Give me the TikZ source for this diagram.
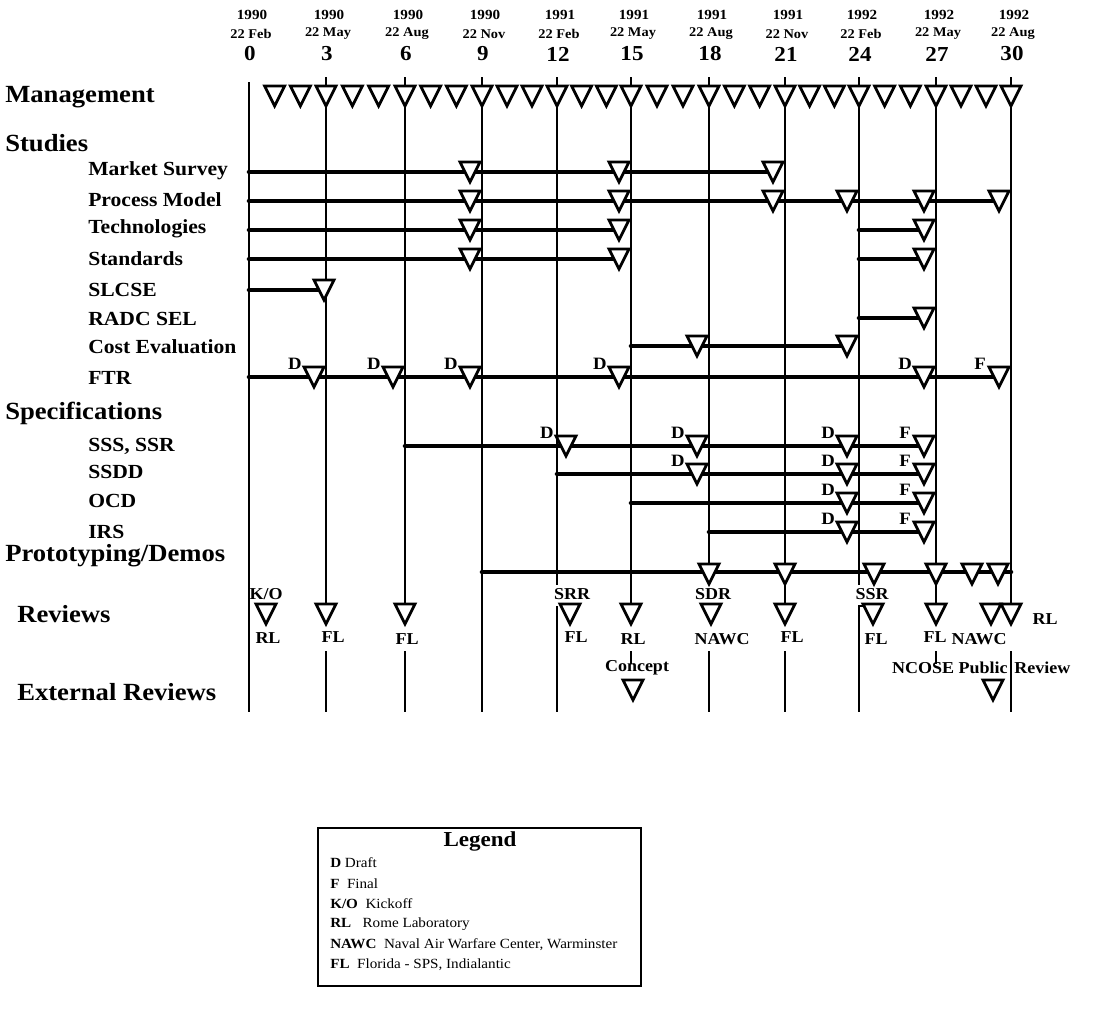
\documentclass[tikz,border=0pt]{standalone}
\usepackage{fontspec}
\setmainfont{Liberation Serif}[FakeStretch=1.08]
\usetikzlibrary{calc}
\newcommand\setmx[1]{%
  \pgfmathsetmacro\mI{int(min(floor((#1)/3),9))}%
  \pgfmathsetmacro\mJ{int(\mI+1)}%
  \pgfmathsetmacro\mF{(#1)/3-\mI}%
  \pgfmathsetmacro\mA{{249,326,405,482,557,631,709,785,859,936,1011}[\mI]}%
  \pgfmathsetmacro\mB{{249,326,405,482,557,631,709,785,859,936,1011}[\mJ]}%
  \pgfmathsetmacro\X{\mA+\mF*(\mB-\mA)}}
\newcommand\tr[2]{\draw[tri] ({#1-10},{#2-10}) -- ({#1+10},{#2-10}) -- (#1,{#2+10}) -- cycle;}
\begin{document}
\begin{tikzpicture}[x=0.75pt,y=-0.75pt,
  vline/.style={line width=1.8pt},
  barline/.style={line width=3.4pt, line cap=round},
  tri/.style={line width=2.1pt, fill=white, line join=miter},
  head/.style={font=\bfseries\fontsize{18.5}{20}\selectfont, anchor=west, inner sep=0},
  sub/.style={font=\bfseries\fontsize{15}{17}\selectfont, anchor=west, inner sep=0},
  yr/.style={font=\bfseries\fontsize{10.5}{12}\selectfont, inner sep=0},
  dt/.style={font=\bfseries\fontsize{10}{12}\selectfont, inner sep=0},
  num/.style={font=\bfseries\fontsize{16}{18}\selectfont, inner sep=0},
  mk/.style={font=\bfseries\fontsize{13}{14}\selectfont, inner sep=0},
  rv/.style={font=\bfseries\fontsize{12.5}{14}\selectfont, inner sep=0},
  lg/.style={font=\fontsize{10.5}{12}\selectfont, anchor=west, inner sep=0},
]
\useasboundingbox (0,0) rectangle (1099,1008);

% ---------- header ----------
\foreach \x/\yy/\dd/\nn [count=\k] in {249/1990/22 Feb/0, 326/1990/22 May/3, 405/1990/22 Aug/6, 482/1990/22 Nov/9, 557/1991/22 Feb/12, 631/1991/22 May/15, 709/1991/22 Aug/18, 785/1991/22 Nov/21, 859/1992/22 Feb/24, 936/1992/22 May/27, 1011/1992/22 Aug/30}{
  \node[yr] (yr\k) at (\x+3,15) {\yy};
  \node[dt] (dt\k) at (\x+2,34) {\dd};
  \node[num] (nm\k) at (\x+1,54) {\nn};
}

% ---------- vertical lines ----------
\draw[vline] (249,82) -- (249,712);
\draw[vline] (326,77) -- (326,604) (326,651) -- (326,712);
\draw[vline] (405,77) -- (405,604) (405,651) -- (405,712);
\draw[vline] (482,77) -- (482,712);
\draw[vline] (557,77) -- (557,585) (557,606) -- (557,712);
\draw[vline] (631,77) -- (631,604) (631,651) -- (631,664);
\draw[vline] (709,77) -- (709,584) (709,651) -- (709,712);
\draw[vline] (785,77) -- (785,604) (785,651) -- (785,712);
\draw[vline] (859,77) -- (859,585) (865,606) -- (859,606) -- (859,712);
\draw[vline] (936,77) -- (936,604) (936,651) -- (936,664);
\draw[vline] (1011,77) -- (1011,604) (1011,651) -- (1011,712);

% ---------- management ----------
\foreach \m in {1,...,30}{\setmx{\m}\tr{\X}{96}}

% ---------- bars ----------
\draw[barline] (249,172) -- (773,172);
\draw[barline] (249,201) -- (999,201);
\draw[barline] (249,230) -- (619,230) (859,230) -- (924,230);
\draw[barline] (249,259) -- (619,259) (859,259) -- (924,259);
\draw[barline] (249,290) -- (324,290);
\draw[barline] (859,318) -- (924,318);
\draw[barline] (631,346) -- (847,346);
\draw[barline] (249,377) -- (999,377);
\draw[barline] (405,446) -- (924,446);
\draw[barline] (557,474) -- (924,474);
\draw[barline] (631,503) -- (924,503);
\draw[barline] (709,532) -- (924,532);
\draw[barline] (482,572) -- (1011,572);

% ---------- study triangles ----------
\foreach \x in {470,619,773}{\tr{\x}{172}}
\foreach \x in {470,619,773,847,924,999}{\tr{\x}{201}}
\foreach \x in {470,619,924}{\tr{\x}{230}}
\foreach \x in {470,619,924}{\tr{\x}{259}}
\tr{324}{290}
\tr{924}{318}
\foreach \x in {697,847}{\tr{\x}{346}}
\foreach \x in {314,393,470,619,924,999}{\tr{\x}{377}}
% specifications
\foreach \x in {566,697,847,924}{\tr{\x}{446}}
\foreach \x in {697,847,924}{\tr{\x}{474}}
\foreach \x in {847,924}{\tr{\x}{503}}
\foreach \x in {847,924}{\tr{\x}{532}}
% prototyping
\foreach \x in {709,785,874,936,972,998}{\tr{\x}{574}}
% reviews
\foreach \x in {266,326,405,570,631,711,785,873,936,991,1011}{\tr{\x}{614}}
% external reviews
\tr{633}{690}
\tr{993}{690}

% ---------- D / F marks ----------
\foreach \x/\t [count=\k] in {314/D,393/D,470/D,619/D,924/D,999/F}{
  \node[mk] (ftr\k) at (\x-19,{377-13}) {\t};}
\foreach \x/\t [count=\k] in {566/D,697/D,847/D,924/F}{
  \node[mk] (sss\k) at (\x-19,{446-13}) {\t};}
\foreach \x/\t [count=\k] in {697/D,847/D,924/F}{
  \node[mk] (ssdd\k) at (\x-19,{474-13}) {\t};}
\foreach \x/\t [count=\k] in {847/D,924/F}{
  \node[mk] (ocd\k) at (\x-19,{503-13}) {\t};}
\foreach \x/\t [count=\k] in {847/D,924/F}{
  \node[mk] (irs\k) at (\x-19,{532-13}) {\t};}

% ---------- review labels ----------
\node[rv] (ko) at (266,594) {K/O};
\node[rv] (srr) at (572,594) {SRR};
\node[rv] (sdr) at (713,594) {SDR};
\node[rv] (ssr) at (872,594) {SSR};
\node[rv] (r1) at (268,638) {RL};
\node[rv] (r2) at (333,637) {FL};
\node[rv] (r3) at (407,639) {FL};
\node[rv] (r4) at (576,637) {FL};
\node[rv] (r5) at (633,639) {RL};
\node[rv] (r6) at (722,639) {NAWC};
\node[rv] (r7) at (792,637) {FL};
\node[rv] (r8) at (876,639) {FL};
\node[rv] (r9) at (935,637) {FL};
\node[rv] (r10) at (979,639) {NAWC};
\node[rv] (r11) at (1045,619) {RL};
\node[rv] (concept) at (637,668) {Concept};
\node[rv,anchor=east] (ncose) at (1008,668) {NCOSE Public};
\node[rv,anchor=west] (review) at (1014,668) {Review};

% ---------- left labels ----------
\node[head] (h1) at (5,97) {Management};
\node[head] (h2) at (5,143) {Studies};
\node[sub] (s1) at (88,171) {Market Survey};
\node[sub] (s2) at (88,200) {Process Model};
\node[sub] (s3) at (88,229) {Technologies};
\node[sub] (s4) at (88,259) {Standards};
\node[sub] (s5) at (88,290) {SLCSE};
\node[sub] (s6) at (88,319) {RADC SEL};
\node[sub] (s7) at (88,347) {Cost Evaluation};
\node[sub] (s8) at (88,378) {FTR};
\node[head] (h3) at (5,413) {Specifications};
\node[sub] (p1) at (88,446) {SSS, SSR};
\node[sub] (p2) at (88,472) {SSDD};
\node[sub] (p3) at (88,501) {OCD};
\node[sub] (p4) at (88,532) {IRS};
\node[head] (h4) at (5,556) {Prototyping/Demos};
\node[head] (h5) at (17,614) {Reviews};
\node[head] (h6) at (17,692) {External Reviews};

% ---------- legend ----------
\draw[line width=1.1pt] (318,828) rectangle (641,986);
\draw[line width=2pt] (318,828) -- (641,828);
\node[font=\bfseries\fontsize{16}{18}\selectfont, inner sep=0] (lgt) at (480,841) {Legend};
\node[lg] (l1) at (330,863) {\textbf{D} Draft};
\node[lg] (l2) at (330,884) {\textbf{F}\ \ Final};
\node[lg] (l3) at (330,904) {\textbf{K/O}\ \ Kickoff};
\node[lg] (l4) at (330,924) {\textbf{RL}\ \ \ Rome Laboratory};
\node[lg] (l5) at (330,945) {\textbf{NAWC}\ \ Naval Air Warfare Center, Warminster};
\node[lg] (l6) at (330,965) {\textbf{FL}\ \ Florida - SPS, Indialantic};
\end{tikzpicture}
\end{document}
